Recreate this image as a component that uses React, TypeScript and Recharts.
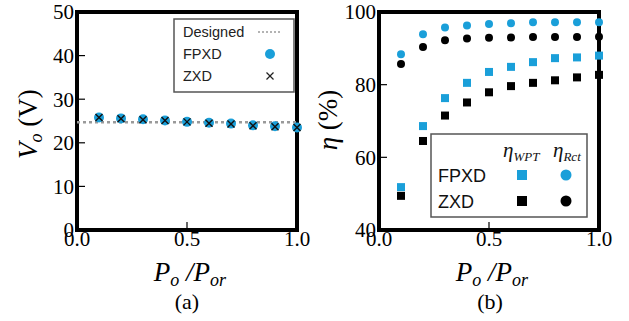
import {
  ScatterChart,
  Scatter,
  XAxis,
  YAxis,
  ReferenceArea,
  ReferenceLine,
} from 'recharts';

const BLUE = '#1a9fd9';
const SERIF = '"Liberation Serif", "Times New Roman", serif';
const SANS = '"Liberation Sans", Arial, sans-serif';

// x axis: normalised output power Po/Por
const loadRatio = [0.1, 0.2, 0.3, 0.4, 0.5, 0.6, 0.7, 0.8, 0.9, 1.0];

// (a) output voltage, V
const voltageFPXD = [25.8, 25.6, 25.4, 25.1, 24.8, 24.6, 24.4, 24.0, 23.8, 23.5];
const voltageZXD = [25.8, 25.5, 25.3, 25.1, 24.8, 24.5, 24.3, 23.9, 23.7, 23.5];
const designedVoltage = 24.7;

// (b) efficiency, %
const etaWptFPXD = [51.8, 68.6, 76.3, 80.5, 83.5, 84.9, 86.2, 87.3, 87.5, 88.0];
const etaWptZXD = [49.4, 64.5, 71.5, 75.1, 77.9, 79.6, 80.5, 81.2, 82.0, 82.7];
const etaRctFPXD = [88.4, 93.9, 95.7, 96.3, 96.7, 96.9, 97.2, 97.2, 97.2, 97.2];
const etaRctZXD = [85.7, 90.4, 92.2, 92.7, 92.9, 93.0, 93.1, 93.1, 93.1, 93.2];

const xTicks = [0, 0.5, 1];
const voltageTicks = [0, 10, 20, 30, 40, 50];
const etaTicks = [40, 60, 80, 100];

const toPoints = (ys: number[]) => ys.map((y, i) => ({ x: loadRatio[i], y }));

const serifText = { fontFamily: SERIF, fontSize: 21, fill: '#000' };

const YTick = ({ x, y, payload }: any) => (
  <g>
    <line x1={x + 4} x2={x + 12} y1={y} y2={y} stroke="#000" strokeWidth={1.2} />
    <text x={x + 1} y={y} dy="0.35em" textAnchor="end" style={serifText}>
      {payload.value}
    </text>
  </g>
);

const XTick = ({ x, y, payload }: any) => (
  <g>
    <line x1={x} x2={x} y1={y - 2} y2={y - 10} stroke="#000" strokeWidth={1.2} />
    <text x={x} y={y + 14} textAnchor="middle" style={serifText}>
      {payload.value.toFixed(1)}
    </text>
  </g>
);

const Dot = ({ r, fill }: { r: number; fill: string }) => (props: any) =>
  <circle cx={props.cx} cy={props.cy} r={r} fill={fill} />;

const Square = ({ s, fill }: { s: number; fill: string }) => (props: any) =>
  <rect x={props.cx - s / 2} y={props.cy - s / 2} width={s} height={s} fill={fill} />;

const Cross = (props: any) => {
  const { cx, cy } = props;
  const d = 3.5;
  return (
    <g stroke="#111" strokeWidth={1.4}>
      <line x1={cx - d} y1={cy - d} x2={cx + d} y2={cy + d} />
      <line x1={cx - d} y1={cy + d} x2={cx + d} y2={cy - d} />
    </g>
  );
};

const App = () => {
  return (
    <div style={{ position: 'absolute', left: 0, top: 0, width: 629, height: 321, background: '#fff' }}>
      <div style={{ position: 'absolute', left: 0, top: 0 }}>
        <ScatterChart width={315} height={321} margin={{ top: 12, right: 18, bottom: 61, left: 17 }}>
          <XAxis
            type="number"
            dataKey="x"
            domain={[0, 1]}
            ticks={xTicks}
            height={30}
            axisLine={false}
            tickLine={false}
            tickSize={0}
            tickMargin={2}
            tick={XTick}
          />
          <YAxis
            type="number"
            dataKey="y"
            domain={[0, 50]}
            ticks={voltageTicks}
            width={60}
            axisLine={false}
            tickLine={false}
            tickSize={0}
            tickMargin={4}
            tick={YTick}
          />
          <ReferenceLine y={designedVoltage} stroke="#9a9a9a" strokeWidth={2.5} strokeDasharray="3 3" />
          <ReferenceArea x1={0} x2={1} y1={0} y2={50} fill="none" stroke="#000" strokeWidth={4} ifOverflow="visible" />
          <Scatter data={toPoints(voltageFPXD)} shape={Dot({ r: 5, fill: BLUE })} isAnimationActive={false} />
          <Scatter data={toPoints(voltageZXD)} shape={Cross} isAnimationActive={false} />
        </ScatterChart>
      </div>
      <div style={{ position: 'absolute', left: 315, top: 0 }}>
        <ScatterChart width={314} height={321} margin={{ top: 12, right: 30, bottom: 61, left: 4 }}>
          <XAxis
            type="number"
            dataKey="x"
            domain={[0, 1]}
            ticks={xTicks}
            height={30}
            axisLine={false}
            tickLine={false}
            tickSize={0}
            tickMargin={2}
            tick={XTick}
          />
          <YAxis
            type="number"
            dataKey="y"
            domain={[40, 100]}
            ticks={etaTicks}
            width={60}
            axisLine={false}
            tickLine={false}
            tickSize={0}
            tickMargin={4}
            tick={YTick}
          />
          <ReferenceArea x1={0} x2={1} y1={40} y2={100} fill="none" stroke="#000" strokeWidth={4} ifOverflow="visible" />
          <Scatter data={toPoints(etaRctFPXD)} shape={Dot({ r: 4, fill: BLUE })} isAnimationActive={false} />
          <Scatter data={toPoints(etaRctZXD)} shape={Dot({ r: 4, fill: '#000' })} isAnimationActive={false} />
          <Scatter data={toPoints(etaWptFPXD)} shape={Square({ s: 8, fill: BLUE })} isAnimationActive={false} />
          <Scatter data={toPoints(etaWptZXD)} shape={Square({ s: 8, fill: '#000' })} isAnimationActive={false} />
        </ScatterChart>
      </div>

      <svg
        width={629}
        height={321}
        style={{ position: 'absolute', left: 0, top: 0, pointerEvents: 'none', fontFamily: SERIF }}
      >
        {/* axis titles (a) */}
        <text x={37} y={124} transform="rotate(-90 37 124)" textAnchor="middle" style={{ fontFamily: SERIF, fontSize: 27 }}>
          <tspan fontStyle="italic">V</tspan>
          <tspan fontStyle="italic" fontSize={18} dy={5}>o</tspan>
          <tspan dy={-5}> (V)</tspan>
        </text>
        <text x={190} y={281} textAnchor="middle" style={{ fontFamily: SERIF, fontSize: 27, fontStyle: 'italic' }}>
          <tspan>P</tspan>
          <tspan fontSize={18} dy={5}>o</tspan>
          <tspan dy={-5}> /P</tspan>
          <tspan fontSize={18} dy={5}>or</tspan>
        </text>
        <text x={187} y={309} textAnchor="middle" style={{ fontFamily: SERIF, fontSize: 22 }}>(a)</text>

        {/* axis titles (b) */}
        <text x={337} y={120} transform="rotate(-90 337 120)" textAnchor="middle" style={{ fontFamily: SERIF, fontSize: 27 }}>
          <tspan fontStyle="italic">η</tspan>
          <tspan> (%)</tspan>
        </text>
        <text x={492} y={281} textAnchor="middle" style={{ fontFamily: SERIF, fontSize: 27, fontStyle: 'italic' }}>
          <tspan>P</tspan>
          <tspan fontSize={18} dy={5}>o</tspan>
          <tspan dy={-5}> /P</tspan>
          <tspan fontSize={18} dy={5}>or</tspan>
        </text>
        <text x={490} y={309} textAnchor="middle" style={{ fontFamily: SERIF, fontSize: 22 }}>(b)</text>

        {/* legend (a) */}
        <rect x={174} y={19} width={120} height={73} fill="#fff" stroke="#555" strokeWidth={1.5} />
        <g style={{ fontFamily: SANS, fontSize: 14.5 }} fill="#222">
          <text x={183} y={37}>Designed</text>
          <text x={183} y={59}>FPXD</text>
          <text x={183} y={81}>ZXD</text>
        </g>
        <line x1={258} x2={282} y1={32} y2={32} stroke="#9a9a9a" strokeWidth={1.5} strokeDasharray="2 2" />
        <circle cx={270} cy={54} r={5} fill={BLUE} />
        <g stroke="#222" strokeWidth={1.3}>
          <line x1={266.5} y1={72.5} x2={273.5} y2={79.5} />
          <line x1={266.5} y1={79.5} x2={273.5} y2={72.5} />
        </g>

        {/* legend (b) */}
        <rect x={431} y={134} width={156} height={83} fill="#fff" stroke="#555" strokeWidth={1.5} />
        <g style={{ fontFamily: SERIF, fontSize: 21, fontStyle: 'italic' }} fill="#111">
          <text x={503} y={157}>
            η<tspan fontSize={13} dy={4}>WPT</tspan>
          </text>
          <text x={553} y={157}>
            η<tspan fontSize={13} dy={4}>Rct</tspan>
          </text>
        </g>
        <g style={{ fontFamily: SANS, fontSize: 18 }} fill="#111">
          <text x={438} y={181.5}>FPXD</text>
          <text x={438} y={207.5}>ZXD</text>
        </g>
        <rect x={517} y={170} width={10} height={10} fill={BLUE} />
        <circle cx={566} cy={175} r={5.5} fill={BLUE} />
        <rect x={517} y={196} width={10} height={10} fill="#000" />
        <circle cx={566} cy={201} r={5.5} fill="#000" />
      </svg>
    </div>
  );
};

export default App;
